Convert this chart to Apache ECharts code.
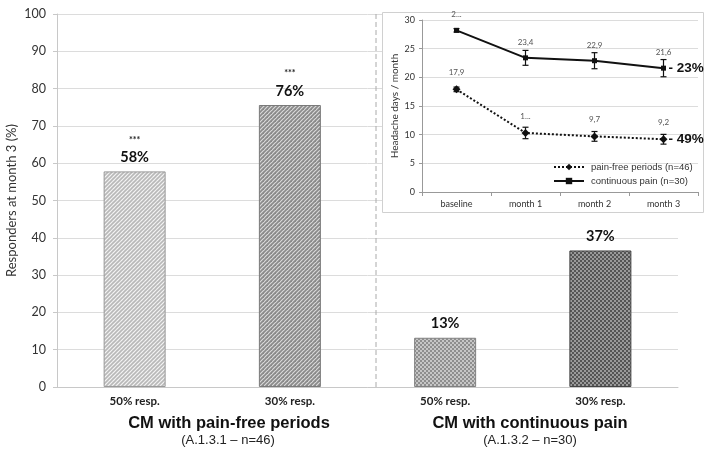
<!DOCTYPE html>
<html>
<head>
<meta charset="utf-8">
<script src="https://cdn.jsdelivr.net/npm/echarts@6/dist/echarts.min.js"></script>
<style>html,body{margin:0;padding:0;background:#fff}#c{width:708px;height:451px}</style>
</head>
<body>
<div id="c"></div>
<script>
// ---- Main bar chart data ----
var barCategories = ['50% resp.', '30% resp.', '50% resp.', '30% resp.'];
var barValues = [57.8, 75.6, 13.2, 36.6];
var barLabels = ['58%', '76%', '13%', '37%'];
var barSig = ['***', '***', '', ''];
var yTicksMain = [0, 10, 20, 30, 40, 50, 60, 70, 80, 90, 100];
var groupTitles = ['CM with pain-free periods', 'CM with continuous pain'];
var groupSubtitles = ['(A.1.3.1 \u2013 n=46)', '(A.1.3.2 \u2013 n=30)'];

// ---- Inset line chart data ----
var insetCategories = ['baseline', 'month 1', 'month 2', 'month 3'];
var contName = 'continuous pain (n=30)';
var contValues = [28.2, 23.4, 22.9, 21.6];
var contErr = [0.3, 1.3, 1.4, 1.5];
var contLabels = ['2...', '23,4', '22,9', '21,6'];
var freeName = 'pain-free periods (n=46)';
var freeValues = [17.9, 10.3, 9.7, 9.2];
var freeErr = [0.4, 1.0, 0.85, 0.85];
var freeLabels = ['17,9', '1...', '9,7', '9,2'];
var contChange = '- 23%';
var freeChange = '- 49%';

function hatch(bg, fg, p, lw) {
  var c = document.createElement('canvas');
  c.width = p; c.height = p;
  var g = c.getContext('2d');
  g.fillStyle = bg; g.fillRect(0, 0, p, p);
  g.strokeStyle = fg; g.lineWidth = lw;
  [0, p, 2 * p].forEach(function (k) {
    g.beginPath(); g.moveTo(k - p - 1, p + 1); g.lineTo(k + 1, -1); g.stroke();
  });
  return c;
}
function checker(a, b, s) {
  var c = document.createElement('canvas');
  c.width = 2 * s; c.height = 2 * s;
  var g = c.getContext('2d');
  g.fillStyle = a; g.fillRect(0, 0, 2 * s, 2 * s);
  g.fillStyle = b; g.fillRect(0, 0, s, s); g.fillRect(s, s, s, s);
  return c;
}
var patterns = [
  {image: hatch('#f4f4f4', '#b8b8b8', 4, 1.6), repeat: 'repeat'},
  {image: hatch('#dcdcdc', '#8a8a8a', 4, 1.8), repeat: 'repeat'},
  {image: checker('#c6c6c6', '#8e8e8e', 2), repeat: 'repeat'},
  {image: checker('#9a9a9a', '#555555', 2), repeat: 'repeat'}
];
var borders = ['#9a9a9a', '#7a7a7a', '#808080', '#444'];

function errData(vals, errs) {
  return vals.map(function (v, i) { return [i, v - errs[i], v + errs[i]]; });
}
function errRender(params, api) {
  var x = api.value(0);
  var lo = api.coord([x, api.value(1)]);
  var hi = api.coord([x, api.value(2)]);
  var w = 3;
  var st = {stroke: '#111', lineWidth: 1.2};
  return {type: 'group', children: [
    {type: 'line', shape: {x1: lo[0], y1: lo[1], x2: hi[0], y2: hi[1]}, style: st},
    {type: 'line', shape: {x1: lo[0] - w, y1: lo[1], x2: lo[0] + w, y2: lo[1]}, style: st},
    {type: 'line', shape: {x1: hi[0] - w, y1: hi[1], x2: hi[0] + w, y2: hi[1]}, style: st}
  ]};
}

var chart = echarts.init(document.getElementById('c'), null, {renderer: 'canvas'});
var lblFont = 'Lato, "Liberation Sans", sans-serif';
var arialFont = '"Liberation Sans", Arial, sans-serif';

var option = {
  animation: false,
  backgroundColor: '#fff',
  grid: [
    {left: 57, right: 30, top: 14, bottom: 64, containLabel: false, outerBoundsMode: 'none'},
    {left: 422, right: 10, top: 20, bottom: 259, containLabel: false, outerBoundsMode: 'none'}
  ],
  xAxis: [
    {type: 'category', gridIndex: 0, data: barCategories,
     axisLine: {show: true, lineStyle: {color: '#c8c8c8'}},
     axisTick: {show: false},
     axisLabel: {margin: 8, fontSize: 11.5, fontWeight: 'bold', color: '#222', fontFamily: lblFont}},
    {type: 'category', gridIndex: 1, data: insetCategories, z: 5,
     axisLine: {show: true, lineStyle: {color: '#999'}},
     axisTick: {show: true, length: 4, lineStyle: {color: '#999'}},
     axisLabel: {margin: 8, fontSize: 9, color: '#333', fontFamily: lblFont}}
  ],
  yAxis: [
    {type: 'value', gridIndex: 0, min: 0, max: 100, interval: 10,
     name: 'Responders at month 3 (%)', nameLocation: 'middle', nameGap: 39, nameMoveOverlap: false,
     nameTextStyle: {fontSize: 13, color: '#333', fontFamily: lblFont},
     axisLine: {show: true, lineStyle: {color: '#c8c8c8'}},
     axisTick: {show: true, length: 4, lineStyle: {color: '#c8c8c8'}},
     axisLabel: {fontSize: 12.5, color: '#333', margin: 11, fontFamily: lblFont,
                 formatter: function (v) { return yTicksMain.indexOf(v) >= 0 ? String(v) : ''; }},
     splitLine: {lineStyle: {color: '#dcdcdc'}}},
    {type: 'value', gridIndex: 1, min: 0, max: 30, interval: 5, z: 5,
     name: 'Headache days / month', nameLocation: 'middle', nameGap: 22, nameMoveOverlap: false,
     nameTextStyle: {fontSize: 10, color: '#333', fontFamily: lblFont},
     axisLine: {show: true, lineStyle: {color: '#999'}},
     axisTick: {show: true, length: 3, lineStyle: {color: '#999'}},
     axisLabel: {fontSize: 9, color: '#333', margin: 7, fontFamily: lblFont},
     splitLine: {lineStyle: {color: '#dcdcdc'}}}
  ],
  legend: {
    left: 548, top: 157, orient: 'vertical', itemGap: 4, itemWidth: 30, itemHeight: 8,
    data: [freeName, contName], z: 6,
    textStyle: {fontSize: 9.5, color: '#333', fontFamily: arialFont, padding: [0, 0, 0, 2]}
  },
  graphic: [
    {type: 'line', z: 1, shape: {x1: 376, y1: 14, x2: 376, y2: 387},
     style: {stroke: '#aaa', lineWidth: 1, lineDash: [5, 3]}},
    {type: 'rect', z: 1, shape: {x: 382.5, y: 12.5, width: 321, height: 200},
     style: {fill: '#fff', stroke: '#d0d0d0', lineWidth: 1}},
    {type: 'text', z: 3, style: {text: groupTitles[0], x: 229, y: 415, align: 'center', fill: '#111', font: 'bold 16.5px ' + arialFont}},
    {type: 'text', z: 3, style: {text: groupSubtitles[0], x: 228, y: 434, align: 'center', fill: '#222', font: '13px ' + arialFont}},
    {type: 'text', z: 3, style: {text: groupTitles[1], x: 530, y: 415, align: 'center', fill: '#111', font: 'bold 16.5px ' + arialFont}},
    {type: 'text', z: 3, style: {text: groupSubtitles[1], x: 530, y: 434, align: 'center', fill: '#222', font: '13px ' + arialFont}}
  ],
  series: [
    {type: 'bar', xAxisIndex: 0, yAxisIndex: 0, barWidth: 62, z: 2,
     data: barValues.map(function (v, i) {
       return {value: v, itemStyle: {color: patterns[i], borderColor: borders[i], borderWidth: 1}};
     }),
     label: {show: true, position: 'top', distance: 5, fontFamily: lblFont,
             formatter: function (p) {
               var s = barSig[p.dataIndex];
               return (s ? '{s|' + s + '}\n' : '') + '{v|' + barLabels[p.dataIndex] + '}';
             },
             rich: {s: {fontSize: 9, fontWeight: 'bold', color: '#222', lineHeight: 17},
                    v: {fontSize: 14.5, fontWeight: 'bold', color: '#111', lineHeight: 18}}}},
    {type: 'line', name: freeName, xAxisIndex: 1, yAxisIndex: 1, z: 6,
     data: freeValues, symbol: 'diamond', symbolSize: 8,
     itemStyle: {color: '#111'},
     lineStyle: {color: '#111', width: 2, type: [2, 2]},
     label: {show: true, position: 'top', distance: 9, fontSize: 8, color: '#555', fontFamily: lblFont,
             formatter: function (p) { return freeLabels[p.dataIndex]; }},
     markPoint: {symbol: 'circle', symbolSize: 0, silent: true,
       data: [{coord: [3, freeValues[3]], value: freeChange}],
       label: {show: true, position: 'right', distance: 5, formatter: freeChange,
               fontSize: 13.5, fontWeight: 'bold', color: '#111', fontFamily: arialFont}}},
    {type: 'line', name: contName, xAxisIndex: 1, yAxisIndex: 1, z: 6,
     data: contValues, symbol: 'rect', symbolSize: 5,
     itemStyle: {color: '#111'},
     lineStyle: {color: '#111', width: 2},
     label: {show: true, position: 'top', distance: 9, fontSize: 8, color: '#555', fontFamily: lblFont,
             formatter: function (p) { return contLabels[p.dataIndex]; }},
     markPoint: {symbol: 'circle', symbolSize: 0, silent: true,
       data: [{coord: [3, contValues[3]], value: contChange}],
       label: {show: true, position: 'right', distance: 5, formatter: contChange,
               fontSize: 13.5, fontWeight: 'bold', color: '#111', fontFamily: arialFont}}},
    {type: 'custom', xAxisIndex: 1, yAxisIndex: 1, z: 7, renderItem: errRender,
     data: errData(freeValues, freeErr), silent: true},
    {type: 'custom', xAxisIndex: 1, yAxisIndex: 1, z: 7, renderItem: errRender,
     data: errData(contValues, contErr), silent: true}
  ]
};
chart.setOption(option);
</script>
</body>
</html>
